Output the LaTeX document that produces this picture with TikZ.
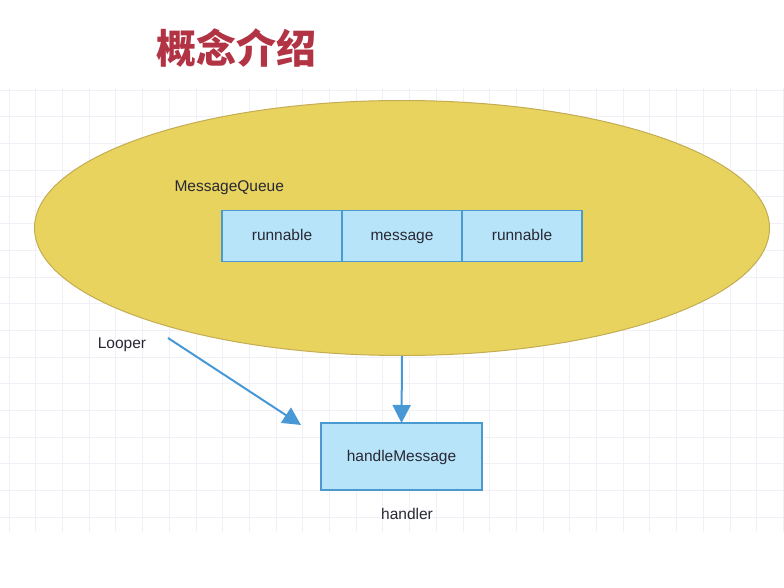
\documentclass[tikz,border=0pt]{standalone}
\usepackage{fontspec}
\setmainfont{Liberation Sans}
\newfontfamily\cjk{Noto Sans CJK SC}
\usetikzlibrary{positioning,arrows.meta,shapes.geometric}
\definecolor{titlered}{RGB}{178,52,68}
\definecolor{ellfill}{RGB}{232,211,94}
\definecolor{ellline}{RGB}{196,172,82}
\definecolor{boxfill}{RGB}{184,228,250}
\definecolor{boxline}{RGB}{74,154,208}
\definecolor{arrowblue}{RGB}{72,152,214}
\definecolor{txt}{RGB}{40,40,52}
\definecolor{gridc}{RGB}{241,240,247}

\begin{document}
\begin{tikzpicture}[x=1pt, y=-1pt,
  cell/.style={draw=boxline, fill=boxfill, line width=1.8pt, minimum width=120pt,
    minimum height=51pt, inner sep=0pt, outer sep=0pt, text height=2.1ex, text depth=0.35ex,
    font=\fontsize{15.5}{18}\selectfont, text=txt},
  lab/.style={font=\fontsize{15.5}{18}\selectfont, text=txt},
  link/.style={draw=arrowblue, line width=2pt, -{Triangle[length=18pt,width=18pt]}},
  gridline/.style={draw=gridc, line width=0.8pt},
  node distance=0pt]
\useasboundingbox (0,0) rectangle (784,588);
% background grid
\foreach \k in {0,...,16} \draw[gridline] (0,{90+26.7*\k}) -- (784,{90+26.7*\k});
\foreach \k in {0,...,29} \draw[gridline] ({9+26.7*\k},88) -- ({9+26.7*\k},532);
% title
\node[font=\cjk\bfseries\fontsize{40}{48}\selectfont, text=titlered] (title) at (236,48) {概念介绍};
% message queue
\node[ellipse, draw=ellline, fill=ellfill, line width=1pt, minimum width=735pt,
  minimum height=255pt, inner sep=0pt] (mq) at (402,228) {};
\node[lab, anchor=west] (mqlab) at (171,188) {MessageQueue};
\node[cell] (c1) at (282,236) {runnable};
\node[cell, right=of c1] (c2) {message};
\node[cell, right=of c2] (c3) {runnable};
% looper and handler
\node[lab] (looper) at (122,345) {Looper};
\node[cell, minimum width=161pt, minimum height=67pt] (hm) at (401.5,456.5) {handleMessage};
\node[lab] (hdl) at (407,514) {handler};
\coordinate (lstart) at (168,338);
\coordinate (lend) at ([xshift=-20pt,yshift=-2pt]hm.north west);
\draw[link] (lstart) -- (lend);
\draw[link] (mq.south) -- (hm.north);
\end{tikzpicture}
\end{document}
